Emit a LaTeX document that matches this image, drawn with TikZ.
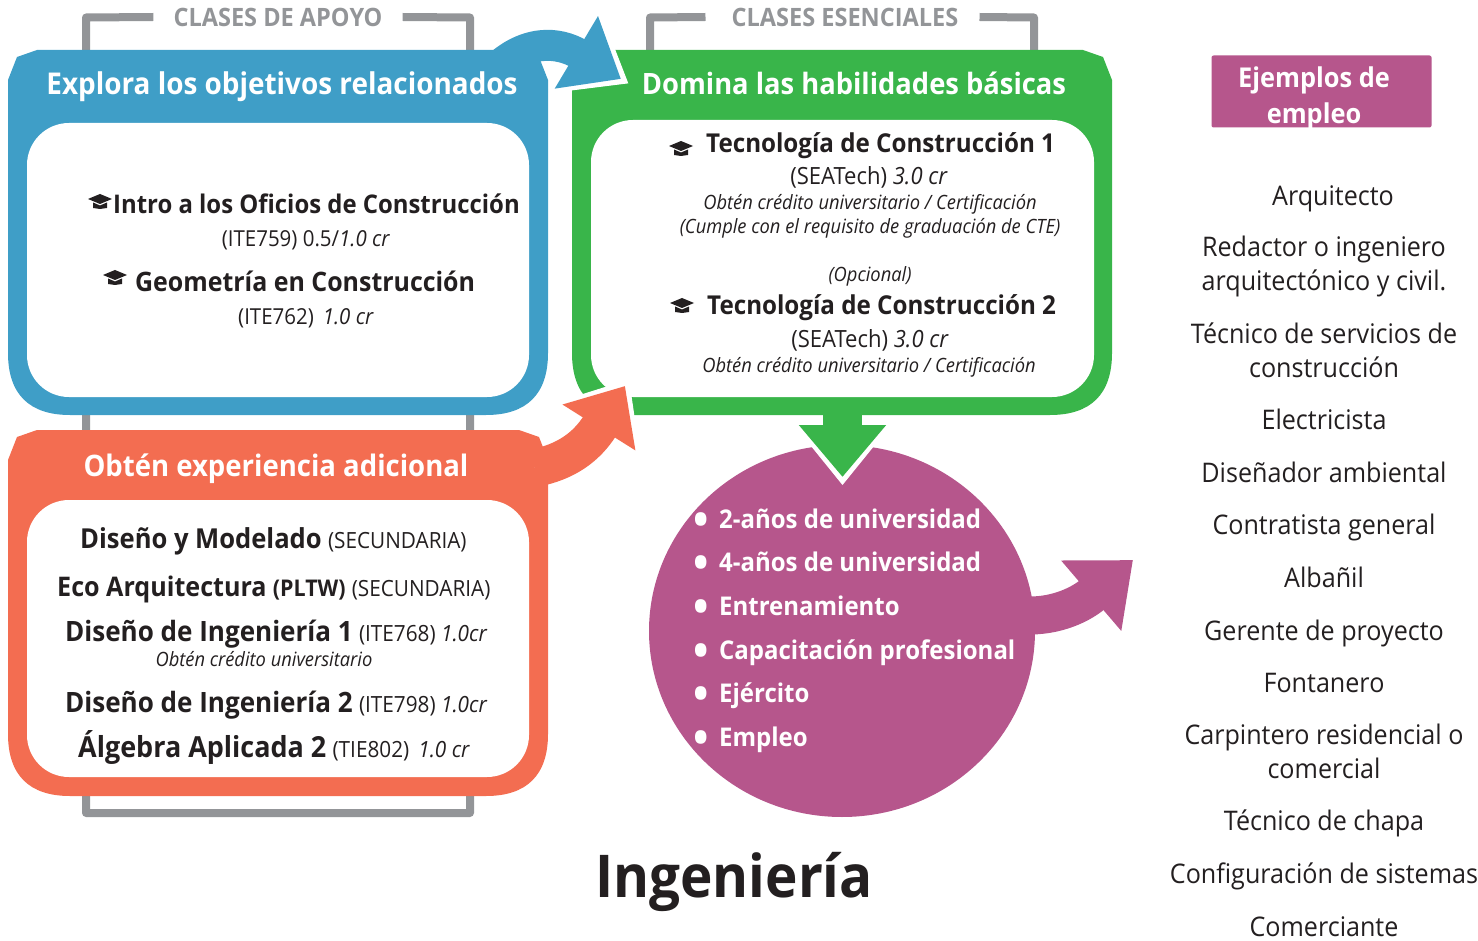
\documentclass[tikz,border=0pt]{standalone}
\usepackage{fontspec}
\usepackage{xcolor}
\setmainfont{Open Sans}[FakeStretch=0.93]
\usetikzlibrary{shapes.geometric, arrows.meta, positioning, calc}
\definecolor{bluepanel}{HTML}{3F9EC7}
\definecolor{greenpanel}{HTML}{39B54A}
\definecolor{orangepanel}{HTML}{F36D51}
\definecolor{pinkpanel}{HTML}{B6568C}
\definecolor{bracketgray}{HTML}{939598}
\definecolor{inkblack}{HTML}{231F20}

% panel with flat top corners and wide round bottom corners
\newcommand{\framepanel}[6]{%
  \pgfmathsetmacro{\pxa}{#3}\pgfmathsetmacro{\pya}{#4}%
  \pgfmathsetmacro{\pxb}{#5}\pgfmathsetmacro{\pyb}{#6}%
  \fill[#1] (\pxa+29,\pya) -- (\pxb-29,\pya) -- (\pxb-9,\pya+7) -- (\pxb,\pya+30)
    -- (\pxb,\pyb-62) .. controls (\pxb,\pyb-20) and (\pxb-22,\pyb) .. (\pxb-62,\pyb)
    -- (\pxa+62,\pyb) .. controls (\pxa+22,\pyb) and (\pxa,\pyb-20) .. (\pxa,\pyb-62)
    -- (\pxa,\pya+30) -- (\pxa+9,\pya+7) -- cycle;
  \coordinate (#2) at ({(\pxa+\pxb)/2},{(\pya+\pyb)/2});
}
\newcommand{\rowname}[2]{{\fontsize{#1}{30}\bfseries\selectfont #2}}
\newcommand{\rownote}[1]{{\fontsize{22.3}{26}\mdseries\selectfont #1}}
\newcommand{\listdot}{\makebox[26pt][l]{\raisebox{-7.5pt}{\fontsize{44}{44}\selectfont\textbullet}}}

\tikzset{
    gradcap/.pic={
        \fill[inkblack] (-12,0) -- (0,-5) -- (12,0) -- (0,5) -- cycle;
        \fill[inkblack] (-7,3.5) -- (0,6.5) -- (7,3.5) -- (7,9) -- (0,10) -- (-7,9) -- cycle;
    }
}

\begin{document}
\begin{tikzpicture}[
    x=1pt, y=-1pt,
    every node/.style={text=inkblack, inner sep=0pt},
    innerbox/.style={
        rectangle,
        rounded corners=42pt,
        fill=white,
        minimum width=#1
    },
    paneltitle/.style={
        font=\fontsize{30}{34}\selectfont\bfseries,
        text=white,
        anchor=base
    },
    bracketlabel/.style={
        font=\fontsize{25.3}{28}\selectfont\bfseries,
        text=bracketgray,
        anchor=base
    },
    bracketline/.style={
        line width=8pt,
        draw=bracketgray,
        line join=round
    },
    coursename/.style={
        font=\fontsize{26}{30}\selectfont\bfseries,
        anchor=base west
    },
    coursenote/.style={
        font=\fontsize{22}{26}\selectfont,
        anchor=base
    },
    smallnote/.style={
        font=\fontsize{19.7}{24}\selectfont\itshape,
        anchor=base
    },
    bulletitem/.style={
        font=\fontsize{25.8}{30}\selectfont\bfseries,
        text=white,
        anchor=base west
    },
    jobitem/.style={
        font=\fontsize{27}{34}\selectfont,
        align=center,
        anchor=base
    },
    blockarrow/.style={
        line width=#1,
        line cap=butt
    },
    haloarrow/.style={
        line width=1pt,
        draw=white
    }
]
\useasboundingbox (0,0) rectangle (1478,941);

% Header labels over the brackets
\node[bracketlabel] (apoyo) at (278,27) {CLASES DE APOYO};
\node[bracketlabel] (esenciales) at (845,27) {CLASES ESENCIALES};

% Gray brackets
\draw[bracketline] ([xshift=-20pt,yshift=10pt]apoyo.base west) -- (86,17.5) -- (86,813) -- (470,813) -- (470,17.5) -- ([xshift=20pt,yshift=10pt]apoyo.base east);
\draw[bracketline] ([xshift=-26pt,yshift=10pt]esenciales.base west) -- (650,17.5) -- (650,60);
\draw[bracketline] ([xshift=21pt,yshift=10pt]esenciales.base east) -- (1034,17.5) -- (1034,60);

% Named ends of the block arrows
\coordinate (bluestart) at (492,72);
\coordinate (bluetip) at (621,79);
\coordinate (orangestart) at (535,468);
\coordinate (orangetip) at (625,386);
\coordinate (pinkstart) at (1020,615);
\coordinate (pinktip) at (1133,560);
\coordinate (greenstart) at (842.5,410);
\coordinate (greentip) at (842.5,477);

% Panels
\framepanel{greenpanel}{domina}{572}{50}{1112}{415}
\node[innerbox=503pt, minimum height=277pt] (dominaclases) at (842.5,258.5) {};
\draw[haloarrow, shorten >=-8.5pt, -{Triangle[length=65.5pt, width=102pt]}]
    (bluestart) .. controls (525,38) and (559,42) .. (bluetip);
\framepanel{bluepanel}{explora}{8}{50}{548}{415}
\framepanel{orangepanel}{experiencia}{8}{430}{548}{796}
\node[innerbox=502pt, minimum height=274pt] (exploraclases) at (278,260) {};
\node[innerbox=502pt, minimum height=277pt] (experienciaclases) at (278,638.5) {};
\node[ellipse, fill=pinkpanel, minimum width=386pt, minimum height=372pt] (salidas) at (842,631) {};

% White halos behind the other heads
\draw[haloarrow, shorten >=-7.8pt, -{Triangle[length=62pt, width=105pt]}]
    (orangestart) .. controls (565,462) and (586,448) .. (orangetip);
\draw[haloarrow, shorten >=-8pt, -{Triangle[length=65pt, width=105pt]}]
    (greenstart) -- (greentip);

% Block arrows
\draw[blockarrow=31pt, draw=bluepanel, -{Triangle[length=52pt, width=81pt]}]
    (bluestart) .. controls (525,38) and (559,42) .. (bluetip);
\draw[blockarrow=38pt, draw=orangepanel, -{Triangle[length=49pt, width=83pt]}]
    (orangestart) .. controls (565,462) and (586,448) .. (orangetip);
\draw[blockarrow=38pt, draw=pinkpanel, -{Triangle[length=55pt, width=89pt]}]
    (pinkstart) .. controls (1050,618) and (1078,607) .. (pinktip);
\draw[blockarrow=39pt, draw=greenpanel, -{Triangle[length=52pt, width=84pt]}]
    (greenstart) -- (greentip);

% Panel titles
\node[paneltitle] (exploratitle) at (282,95) {Explora los objetivos relacionados};
\node[paneltitle, font=\fontsize{29.4}{34}\selectfont\bfseries] (dominatitle) at (854,95) {Domina las habilidades básicas};
\node[paneltitle, font=\fontsize{29.6}{34}\selectfont\bfseries] (experienciatitle) at (276,476) {Obtén experiencia adicional};

% Blue panel
\pic (capintro) at (100,199) {gradcap};
\node[coursename, font=\fontsize{25.7}{30}\selectfont\bfseries] (intro) at (113,214) {Intro a los Oficios de Construcción};
\node[coursenote] (introcode) at (306,247) {(ITE759) 0.5/\textit{1.0 cr}};
\pic (capgeometria) at (115,275) {gradcap};
\node[coursename, font=\fontsize{26.8}{30}\selectfont\bfseries] (geometria) at (135,292) {Geometría en Construcción};
\node[coursenote] (geometriacode) at (306,325) {(ITE762)\, \textit{1.0 cr}};

% Green panel
\pic (captecuno) at (681,146) {gradcap};
\node[coursename] (tecuno) at (706,153) {Tecnología de Construcción 1};
\node[coursenote, font=\fontsize{23.7}{26}\selectfont] (tecunocode) at (869,185) {(SEATech) \textit{3.0 cr}};
\node[smallnote] (tecunonote) at (870,210) {Obtén crédito universitario / Certificación};
\node[smallnote] (tecunocte) at (870,234) {(Cumple con el requisito de graduación de CTE)};
\node[smallnote] (opcional) at (870,282) {(Opcional)};
\pic (captecdos) at (682,303) {gradcap};
\node[coursename] (tecdos) at (707,315) {Tecnología de Construcción 2};
\node[coursenote, font=\fontsize{23.7}{26}\selectfont] (tecdoscode) at (870,348) {(SEATech) \textit{3.0 cr}};
\node[smallnote] (tecdosnote) at (869,372) {Obtén crédito universitario / Certificación};

% Orange panel
\node[coursename] (modelado) at (80,548) {\rowname{27.5}{Diseño y Modelado} \rownote{(SECUNDARIA)}};
\node[coursename] (eco) at (57,596) {\rowname{27}{Eco Arquitectura} \rowname{23}{(PLTW)} \rownote{(SECUNDARIA)}};
\node[coursename] (disenouno) at (65,641) {\rowname{28}{Diseño de Ingeniería 1} \rownote{(ITE768) \textit{1.0cr}}};
\node[smallnote] (disenounonote) at (264,666) {Obtén crédito universitario};
\node[coursename] (disenodos) at (65,712) {\rowname{28}{Diseño de Ingeniería 2} \rownote{(ITE798) \textit{1.0cr}}};
\node[coursename] (algebra) at (78,757) {\rowname{29}{Álgebra Aplicada 2} \rownote{(TIE802)\, \textit{1.0 cr}}};

% Pink circle list
\node[bulletitem] (anosdos) at (693,528) {\listdot 2-años de universidad};
\node[bulletitem] (anoscuatro) at (693,571) {\listdot 4-años de universidad};
\node[bulletitem] (entrenamiento) at (693,615) {\listdot Entrenamiento};
\node[bulletitem] (capacitacion) at (693,659) {\listdot Capacitación profesional};
\node[bulletitem] (ejercito) at (693,702) {\listdot Ejército};
\node[bulletitem] (empleo) at (693,746) {\listdot Empleo};

% Job column
\node[rectangle, rounded corners=2pt, fill=pinkpanel, minimum width=220pt, minimum height=72pt] (ejemplos) at (1321.5,91.5) {};
\node[font=\fontsize{27.3}{36}\selectfont\bfseries, text=white, align=center, anchor=center] (ejemplostitle) at (1314,98) {Ejemplos de\\empleo};
\node[jobitem] (arquitecto) at (1333,206) {Arquitecto};
\node[jobitem, anchor=center] (redactor) at (1324,266) {Redactor o ingeniero\\arquitectónico y civil.};
\node[jobitem, anchor=center] (tecnico) at (1324,350) {Técnico de servicios de\\construcción};
\node[jobitem] (electricista) at (1324,429) {Electricista};
\node[jobitem] (ambiental) at (1324,482) {Diseñador ambiental};
\node[jobitem] (contratista) at (1324,534) {Contratista general};
\node[jobitem] (albanil) at (1324,587) {Albañil};
\node[jobitem] (gerente) at (1324,640) {Gerente de proyecto};
\node[jobitem] (fontanero) at (1324,692) {Fontanero};
\node[jobitem, anchor=center] (carpintero) at (1324,751) {Carpintero residencial o\\comercial};
\node[jobitem] (chapa) at (1324,830) {Técnico de chapa};
\node[jobitem] (sistemas) at (1324,883) {Configuración de sistemas};
\node[jobitem] (comerciante) at (1324,936) {Comerciante};

% Program name
\node[font=\fontsize{59}{70}\selectfont\bfseries, anchor=base] (ingenieria) at (734,897) {Ingeniería};

\end{tikzpicture}
\end{document}
